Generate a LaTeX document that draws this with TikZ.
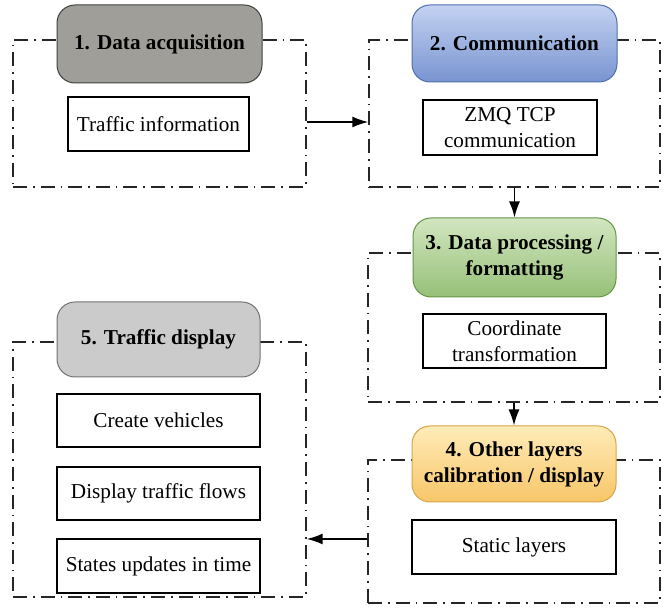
\documentclass[tikz,border=0pt]{standalone}
\usepackage{fontspec}
\setmainfont{Liberation Serif}
\usetikzlibrary{arrows.meta}
\begin{document}
\begin{tikzpicture}[x=0.5pt,y=-0.5pt,
  font=\fontsize{10.6pt}{13pt}\selectfont,
  frame/.style={draw=black!85, line width=0.7pt,
    dash pattern=on 7pt off 3pt on 0.8pt off 3pt, inner sep=0pt},
  hdr/.style={rounded corners=9pt, line width=0.5pt, align=center,
    font=\fontsize{10.6pt}{13pt}\selectfont\bfseries, inner sep=0pt},
  item/.style={draw=black, line width=0.9pt, fill=white, align=center, inner sep=0pt},
  arr/.style={line width=0.8pt, -{Latex[length=8pt,width=5.5pt]}}
]
\definecolor{grayA}{RGB}{160,158,153}
\definecolor{grayB}{RGB}{203,203,203}
\definecolor{blueT}{RGB}{196,210,242}
\definecolor{blueB}{RGB}{120,148,208}
\definecolor{blueL}{RGB}{80,110,175}
\definecolor{greenT}{RGB}{210,230,192}
\definecolor{greenB}{RGB}{150,192,120}
\definecolor{greenL}{RGB}{100,150,70}
\definecolor{orT}{RGB}{255,236,185}
\definecolor{orB}{RGB}{247,198,104}
\definecolor{orL}{RGB}{215,165,70}

\useasboundingbox (0,0) rectangle (670,608);

% dash-dot group frames
\node[frame, minimum width=146.5pt, minimum height=73.5pt] (f1) at (159.5,113.5) {};
\node[frame, minimum width=145.5pt, minimum height=73.5pt] (f2) at (514.5,113.5) {};
\node[frame, minimum width=146pt, minimum height=74.5pt] (f3) at (514,327.5) {};
\node[frame, minimum width=146pt, minimum height=71.5pt] (f4) at (514,531.5) {};
\node[frame, minimum width=146.5pt, minimum height=127.5pt] (f5) at (159.5,469.5) {};

% stage headers
\node[hdr, draw=black!75, fill=grayA, minimum width=102.5pt, minimum height=39pt]
  (h1) at (159.5,44) {1. Data acquisition};
\node[hdr, draw=blueL, top color=blueT, bottom color=blueB, minimum width=102.5pt, minimum height=38.5pt]
  (h2) at (514.5,43.5) {2. Communication};
\node[hdr, draw=greenL, top color=greenT, bottom color=greenB, minimum width=101.5pt, minimum height=39.5pt]
  (h3) at (514.5,257.5) {3. Data processing /\\formatting};
\node[hdr, draw=orL, top color=orT, bottom color=orB, minimum width=102pt, minimum height=38pt]
  (h4) at (514,464) {4. Other layers\\calibration / display};
\node[hdr, draw=black!55, fill=grayB, minimum width=101.5pt, minimum height=37.5pt]
  (h5) at (158.5,339.5) {5. Traffic display};

% task boxes
\node[item, minimum width=90.5pt, minimum height=27pt] (t1) at (158.5,124) {Traffic information};
\node[item, minimum width=87pt, minimum height=27.5pt] (t2) at (510,127.5) {ZMQ TCP\\communication};
\node[item, minimum width=91.5pt, minimum height=27pt] (t3) at (514.5,341) {Coordinate\\transformation};
\node[item, minimum width=102pt, minimum height=27pt] (t4) at (514,547) {Static layers};
\node[item, minimum width=101.5pt, minimum height=26.5pt] (t5a) at (158.5,420.5) {Create vehicles};
\node[item, minimum width=101.5pt, minimum height=26.5pt] (t5b) at (158.5,493.5) {Display traffic flows};
\node[item, minimum width=101.5pt, minimum height=27pt] (t5c) at (158.5,566) {States updates in time};

% flow between stages
\coordinate (a12) at (340,122);
\coordinate (a45) at (340,539);
\draw[arr] (f1.east |- a12) -- (f2.west |- a12);
\draw[arr] (f2.south) -- (h3.north);
\draw[arr] (f3.south) -- (h4.north);
\draw[arr] (f4.west |- a45) -- (f5.east |- a45);
\end{tikzpicture}
\end{document}
